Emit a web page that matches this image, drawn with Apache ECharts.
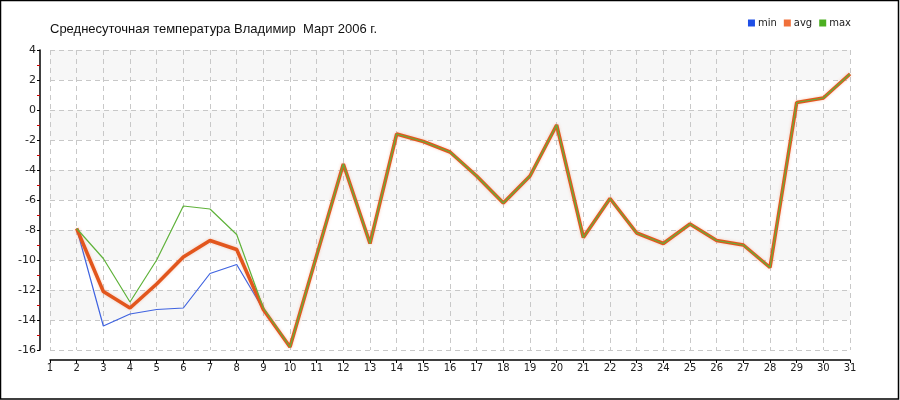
<!DOCTYPE html>
<html>
<head>
<meta charset="utf-8">
<script src="https://cdn.jsdelivr.net/npm/echarts@6/dist/echarts.min.js"></script>
<style>
html,body{margin:0;padding:0;background:#fff;}
#chart{width:900px;height:400px;}
</style>
</head>
<body>
<div id="chart"></div>
<script>
const titleText = 'Среднесуточная температура Владимир  Март 2006 г.';
const days = ['1','2','3','4','5','6','7','8','9','10','11','12','13','14','15','16','17','18','19','20','21','22','23','24','25','26','27','28','29','30','31'];
const minVals = [null,-7.9,-14.4,-13.6,-13.3,-13.2,-10.9,-10.3,-13.3,-15.8,-9.7,-3.6,-8.9,-1.6,-2.1,-2.8,-4.4,-6.2,-4.4,-1.0,-8.5,-5.9,-8.2,-8.9,-7.6,-8.7,-9.0,-10.5,0.5,0.8,2.4];
const avgVals = [null,-7.9,-12.1,-13.2,-11.6,-9.8,-8.7,-9.3,-13.3,-15.8,-9.7,-3.6,-8.9,-1.6,-2.1,-2.8,-4.4,-6.2,-4.4,-1.0,-8.5,-5.9,-8.2,-8.9,-7.6,-8.7,-9.0,-10.5,0.5,0.8,2.4];
const maxVals = [null,-7.9,-9.9,-12.8,-10.0,-6.4,-6.6,-8.3,-13.2,-15.8,-9.7,-3.6,-8.9,-1.6,-2.1,-2.8,-4.4,-6.2,-4.4,-1.0,-8.5,-5.9,-8.2,-8.9,-7.6,-8.7,-9.0,-10.5,0.5,0.8,2.4];
const seriesNames = ['min','avg','max'];

const chart = echarts.init(document.getElementById('chart'), null, {renderer:'canvas'});
const font = 'Tahoma, "DejaVu Sans", sans-serif';
chart.setOption({
  animation:false,
  backgroundColor:'#fff',
  title:{text:titleText,left:45,top:18,textStyle:{fontSize:13,fontWeight:'normal',color:'#111',fontFamily:'"Liberation Sans", Arial, sans-serif'}},
  legend:{
    data:[
      {name:'min',itemStyle:{color:'#1f4fe6'}},
      {name:'avg',itemStyle:{color:'#f0703a'}},
      {name:'max',itemStyle:{color:'#4caf22'}}
    ],
    right:44,top:13,itemWidth:7,itemHeight:7,itemGap:7,icon:'rect',
    textStyle:{fontSize:10,color:'#222',fontFamily:font,padding:[0,0,0,-2]}
  },
  grid:{left:50,right:50,top:50,bottom:50,containLabel:false},
  xAxis:{
    type:'category',data:days,boundaryGap:false,offset:10,
    axisLine:{onZero:false,lineStyle:{color:'#000',width:1.5}},
    axisTick:{inside:false,length:3,lineStyle:{color:'#000'}},
    axisLabel:{color:'#222',fontSize:10,fontFamily:font,margin:3,interval:0},
    splitLine:{show:true,interval:0,lineStyle:{color:'#c8c8c8',type:[5,4]}}
  },
  yAxis:{
    type:'value',min:-16,max:4,interval:2,offset:10,
    axisLine:{show:true,onZero:false,lineStyle:{color:'#000',width:1.5}},
    axisTick:{show:true,length:3,lineStyle:{color:'#000'}},
    minorTick:{show:true,splitNumber:2,length:3,lineStyle:{color:'#d00000'}},
    axisLabel:{color:'#222',fontSize:11,fontFamily:font,margin:4},
    splitLine:{show:true,lineStyle:{color:'#c8c8c8',type:[5,4]}},
    splitArea:{show:true,areaStyle:{color:['#ffffff','#f7f7f7']}}
  },
  graphic:[{type:'rect',shape:{x:0.5,y:0.5,width:898,height:398.5},style:{fill:'none',stroke:'#000',lineWidth:1.5},silent:true}],
  series:[
    {name:'min',type:'line',data:minVals,showSymbol:false,symbol:'none',lineStyle:{color:'#3f63e0',width:1.2},itemStyle:{color:'#1f4fe6'},z:2},
    {name:'avg',type:'line',data:avgVals,showSymbol:false,symbol:'none',lineStyle:{color:'#e2561d',width:3.5,shadowColor:'rgba(240,140,100,0.45)',shadowBlur:3},itemStyle:{color:'#f0703a'},z:3},
    {name:'max',type:'line',data:maxVals,showSymbol:false,symbol:'none',lineStyle:{color:'#5fb23a',width:1.2},itemStyle:{color:'#4caf22'},z:4}
  ]
});
</script>
</body>
</html>
